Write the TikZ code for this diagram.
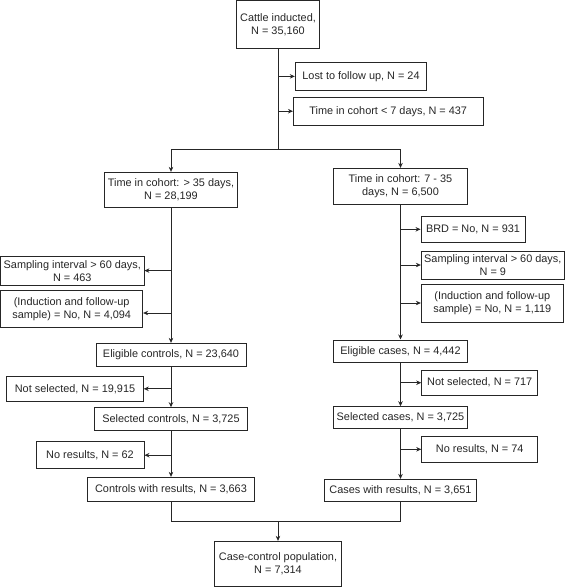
\documentclass[tikz,border=0pt]{standalone}
\usepackage{fontspec}
\setmainfont{Liberation Sans}
\usetikzlibrary{arrows.meta}
\begin{document}
\begin{tikzpicture}[x=1pt,y=-1pt,
  box/.style={draw=black!85, line width=0.9pt, inner sep=0pt, align=center, text=black!85,
    font=\fontsize{10.9}{13}\selectfont},
  arr/.style={draw=black!85, line width=0.9pt, -{Stealth[length=5pt,width=4.5pt]}},
  ln/.style={draw=black!85, line width=0.9pt}]
\useasboundingbox (0,0) rectangle (565,587);
% top
\node[box, minimum width=83.3pt, minimum height=48.2pt] (cattle) at (278,24.6) {Cattle inducted,\\N = 35,160};
\node[box, minimum width=131.5pt, minimum height=27.5pt] (lost) at (361,76.4) {Lost to follow up, N = 24};
\node[box, minimum width=189.5pt, minimum height=27.9pt] (t7) at (388.2,111.2) {Time in cohort < 7 days, N = 437};
% left branch
\node[box, minimum width=133.4pt, minimum height=35.4pt] (t35) at (171,190) {Time in cohort: > 35 days,\\N = 28,199};
\node[box, minimum width=143.3pt, minimum height=29pt] (sampL) at (72.3,270.6) {Sampling interval > 60 days,\\N = 463};
\node[box, minimum width=142pt, minimum height=37.7pt] (indL) at (71.7,308.8) {(Induction and follow-up\\sample) = No, N = 4,094};
\node[box, minimum width=150pt, minimum height=23.4pt] (eligC) at (171,355) {Eligible controls, N = 23,640};
\node[box, minimum width=136.6pt, minimum height=25.3pt] (notselL) at (75,388.8) {Not selected, N = 19,915};
\node[box, minimum width=153.4pt, minimum height=22.3pt] (selC) at (171,418.8) {Selected controls, N = 3,725};
\node[box, minimum width=108pt, minimum height=26.6pt] (noresL) at (90,455.2) {No results, N = 62};
\node[box, minimum width=166.3pt, minimum height=24.4pt] (ctrlres) at (171,489.5) {Controls with results, N = 3,663};
% right branch
\node[box, minimum width=134.4pt, minimum height=35.7pt] (t735) at (400.5,186.2) {Time in cohort: 7 - 35\\days, N = 6,500};
\node[box, minimum width=104pt, minimum height=25.3pt] (brd) at (473,229.3) {BRD = No, N = 931};
\node[box, minimum width=143pt, minimum height=28pt] (sampR) at (492.8,265) {Sampling interval > 60 days,\\N = 9};
\node[box, minimum width=142pt, minimum height=38pt] (indR) at (492.3,303) {(Induction and follow-up\\sample) = No, N = 1,119};
\node[box, minimum width=134.4pt, minimum height=22.7pt] (eligCase) at (400.5,351.3) {Eligible cases, N = 4,442};
\node[box, minimum width=116pt, minimum height=25.3pt] (notselR) at (479.7,382.7) {Not selected, N = 717};
\node[box, minimum width=134pt, minimum height=21.6pt] (selCase) at (400.5,417.5) {Selected cases, N = 3,725};
\node[box, minimum width=116pt, minimum height=25.3pt] (noresR) at (479.7,449.3) {No results, N = 74};
\node[box, minimum width=152.7pt, minimum height=21.7pt] (caseres) at (400.5,490.2) {Cases with results, N = 3,651};
% bottom
\node[box, minimum width=127.7pt, minimum height=45.4pt] (cc) at (278,564) {Case-control population,\\N = 7,314};
% coordinates
\coordinate (split) at (278,149.3);
\coordinate (merge) at (278,521.7);
\coordinate (indLy) at (0,313);
% top connectors
\draw[ln] (cattle.south) -- (split);
\draw[arr] (cattle.south |- lost.west) -- (lost.west);
\draw[arr] (cattle.south |- t7.west) -- (t7.west);
\draw[ln] (t35.north |- split) -- (t735.north |- split);
\draw[arr] (t35.north |- split) -- (t35.north);
\draw[arr] (t735.north |- split) -- (t735.north);
% left connectors
\draw[arr] (t35.south) -- (eligC.north);
\draw[arr] (t35.south |- sampL.east) -- (sampL.east);
\draw[arr] (t35.south |- indLy) -- (indL.east |- indLy);
\draw[arr] (eligC.south) -- (selC.north);
\draw[arr] (eligC.south |- notselL.east) -- (notselL.east);
\draw[arr] (selC.south) -- (ctrlres.north);
\draw[arr] (selC.south |- noresL.east) -- (noresL.east);
% right connectors
\draw[arr] (t735.south) -- (eligCase.north);
\draw[arr] (t735.south |- brd.west) -- (brd.west);
\draw[arr] (t735.south |- sampR.west) -- (sampR.west);
\draw[arr] (t735.south |- indR.west) -- (indR.west);
\draw[arr] (eligCase.south) -- (selCase.north);
\draw[arr] (eligCase.south |- notselR.west) -- (notselR.west);
\draw[arr] (selCase.south) -- (caseres.north);
\draw[arr] (selCase.south |- noresR.west) -- (noresR.west);
% merge
\draw[ln] (ctrlres.south) -- (ctrlres.south |- merge) -- (caseres.south |- merge) -- (caseres.south);
\draw[arr] (merge) -- (cc.north);
\end{tikzpicture}
\end{document}
